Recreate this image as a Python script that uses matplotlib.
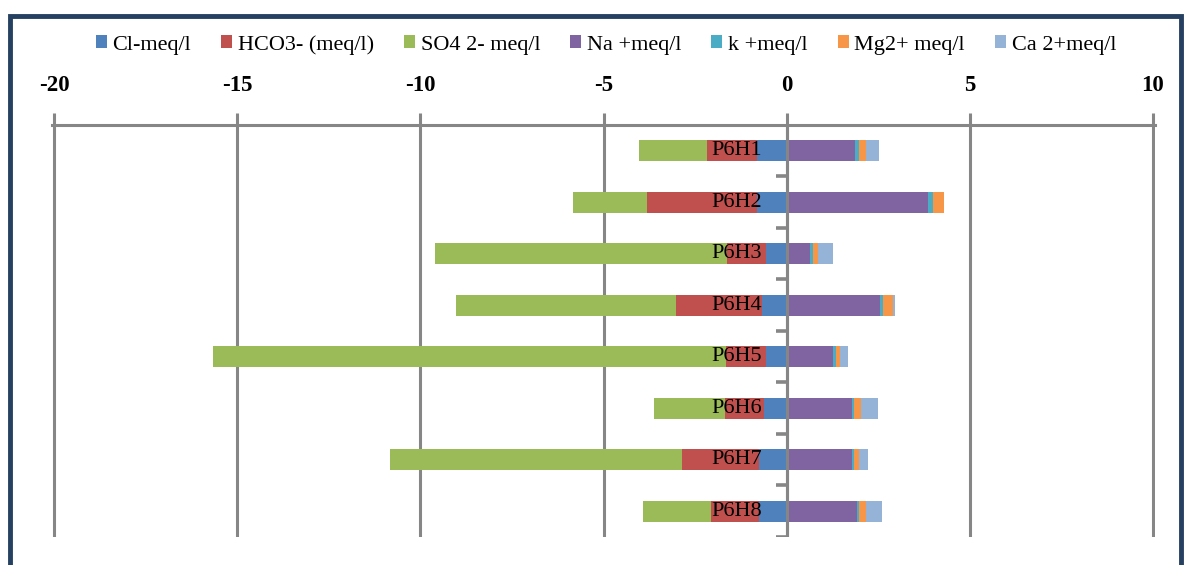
import numpy as np
import matplotlib
matplotlib.use('Agg')
import matplotlib.pyplot as plt
from matplotlib.patches import Rectangle

samples = ['P6H1', 'P6H2', 'P6H3', 'P6H4', 'P6H5', 'P6H6', 'P6H7', 'P6H8']

# anions plotted as negative values
cl = [-0.82, -0.82, -0.57, -0.68, -0.57, -0.63, -0.76, -0.76]
hco3 = [-1.36, -3.00, -1.06, -2.34, -1.09, -1.04, -2.10, -1.30]
so4 = [-1.85, -2.02, -7.98, -6.00, -14.00, -1.96, -7.98, -1.85]

# cations
na = [1.87, 3.87, 0.65, 2.55, 1.28, 1.78, 1.78, 1.92]
k = [0.10, 0.14, 0.07, 0.09, 0.07, 0.07, 0.07, 0.07]
mg = [0.20, 0.30, 0.15, 0.27, 0.10, 0.18, 0.14, 0.17]
ca = [0.34, 0.00, 0.41, 0.05, 0.24, 0.46, 0.23, 0.44]

labels = ['Cl-meq/l', 'HCO3- (meq/l)', 'SO4 2- meq/l', 'Na +meq/l',
          'k +meq/l', 'Mg2+ meq/l', 'Ca 2+meq/l']
colors = ['#4F81BD', '#C0504D', '#9BBB59', '#8064A2',
          '#4BACC6', '#F79646', '#95B3D7']

xticks = [-20, -15, -10, -5, 0, 5, 10]


def plotIons():

    plt.rcParams['font.family'] = ['Liberation Serif', 'DejaVu Serif']
    grey = '#868686'

    fig = plt.figure(figsize=(11.88, 5.65), dpi=100)
    ax = fig.add_axes([0.0438, 0.0496, 0.9284, 0.7292])

    y = np.arange(len(samples))
    h = 0.4

    # negative side, stacked outward from zero
    left = np.zeros(len(samples))
    for vals, lab, col in zip([cl, hco3, so4], labels[:3], colors[:3]):
        vals = np.array(vals)
        ax.barh(y, vals, height=h, left=left, color=col, label=lab, zorder=3)
        left = left + vals

    # positive side
    left = np.zeros(len(samples))
    for vals, lab, col in zip([na, k, mg, ca], labels[3:], colors[3:]):
        vals = np.array(vals)
        ax.barh(y, vals, height=h, left=left, color=col, label=lab, zorder=3)
        left = left + vals

    ax.set_xlim(-20.06, 10.06)
    ax.set_ylim(len(samples) - 0.5, -0.5)

    ax.xaxis.tick_top()
    ax.set_xticks(xticks)
    ax.set_xticklabels([str(t) for t in xticks], fontsize=16.5, fontweight='bold')
    ax.tick_params(axis='x', direction='out', length=9, width=2.2, color=grey, pad=12)
    ax.grid(axis='x', color=grey, lw=2.2, zorder=1)
    ax.set_yticks([])

    for s in ['left', 'right', 'bottom']:
        ax.spines[s].set_visible(False)
    ax.spines['top'].set_color(grey)
    ax.spines['top'].set_linewidth(2.2)

    # category axis sitting on zero
    ax.axvline(0, color=grey, lw=2.2, zorder=4)
    bounds = np.arange(len(samples) + 1) - 0.5
    ax.hlines(bounds[1:], -0.3, 0, color=grey, lw=2.6, zorder=4)

    for yi, s in zip(y, samples):
        ax.annotate(s, xy=(0, yi), xytext=(-25, 0), textcoords='offset pixels',
                    ha='right', va='center', fontsize=16, zorder=5)

    ax.legend(loc='center', bbox_to_anchor=(0.51, 0.921), bbox_transform=fig.transFigure,
              ncol=7, frameon=False, fontsize=16, handlelength=0.5, handleheight=0.5,
              handletextpad=0.25, columnspacing=1.35)

    fig.patches.append(Rectangle((0.0084, -0.1), 0.9856, 1.0717, transform=fig.transFigure,
                                 fill=False, edgecolor='#254061', lw=3.5))

    fig.savefig('out.png', dpi=100)


def main():
    plotIons()


main()
